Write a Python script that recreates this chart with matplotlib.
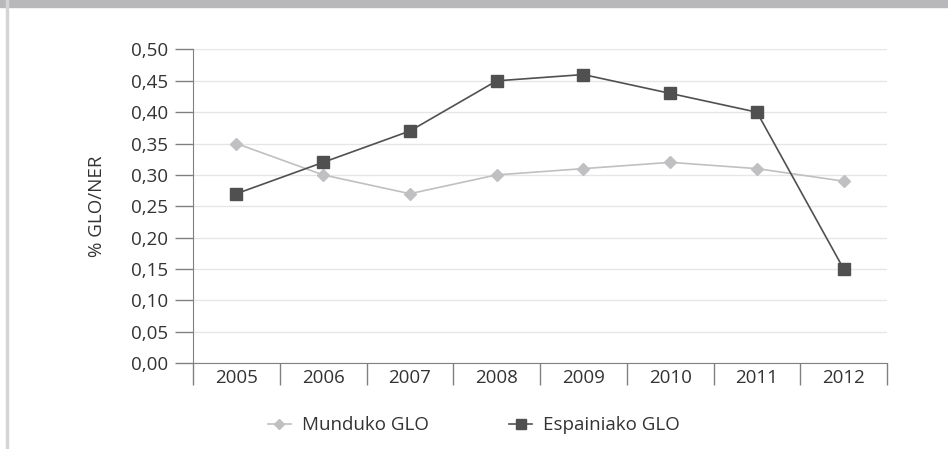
import matplotlib.pyplot as plt
from matplotlib.patches import Rectangle
from matplotlib.ticker import FuncFormatter

plt.rcParams['font.family'] = ['Open Sans', 'DejaVu Sans']

years = ['2005', '2006', '2007', '2008', '2009', '2010', '2011', '2012']
munduko = [0.35, 0.30, 0.27, 0.30, 0.31, 0.32, 0.31, 0.29]
espainiako = [0.27, 0.32, 0.37, 0.45, 0.46, 0.43, 0.40, 0.15]

fig = plt.figure(figsize=(9.48, 4.49), dpi=100)
ax = fig.add_axes([0.2036, 0.1915, 0.7321, 0.6983])

# frame decorations of the original page
fig.patches.append(Rectangle((0, 1 - 7 / 449), 1, 7 / 449, transform=fig.transFigure,
                             color='#b8b8ba', zorder=0))
fig.patches.append(Rectangle((6 / 948, 0), 2 / 948, 1, transform=fig.transFigure,
                             color='#d4d4d6', zorder=0))

x = range(len(years))
ax.plot(x, munduko, color='#c0c0c2', lw=1.2, marker='D', ms=6, mec='#c0c0c2',
        mfc='#c0c0c2', label='Munduko GLO', zorder=3)
ax.plot(x, espainiako, color='#505050', lw=1.2, marker='s', ms=8, mec='#505050',
        mfc='#505050', label='Espainiako GLO', zorder=4)

ax.set_xlim(-0.5, len(years) - 0.5)
ax.set_ylim(0, 0.5)
ax.set_yticks([i * 0.05 for i in range(11)])
ax.yaxis.set_major_formatter(FuncFormatter(lambda v, p: f'{v:.2f}'.replace('.', ',')))
ax.grid(axis='y', color='#e6e6e6', lw=1)
ax.set_axisbelow(True)

ax.set_xticks([i - 0.5 for i in range(len(years) + 1)])
ax.set_xticklabels([])
ax.set_xticks(list(x), minor=True)
ax.set_xticklabels(years, minor=True)
ax.tick_params(axis='x', which='major', length=16, color='#808080', width=1)
ax.tick_params(axis='x', which='minor', length=0, pad=4, labelsize=13.5, labelcolor='#333333')
ax.tick_params(axis='y', length=13, color='#808080', width=1, pad=5, labelsize=13.5,
               labelcolor='#333333')

for s in ['top', 'right']:
    ax.spines[s].set_visible(False)
for s in ['left', 'bottom']:
    ax.spines[s].set_color('#808080')

ax.set_ylabel('% GLO/NER', fontsize=13.5, color='#333333', labelpad=18)

fig.legend(handles=ax.get_lines(), loc='center', bbox_to_anchor=(0.5, 0.053),
           ncol=2, frameon=False, fontsize=13.5, labelcolor='#333333',
           handlelength=1.2, columnspacing=4.3, handletextpad=0.6, markerscale=0.9)

plt.savefig('out.png', dpi=100)
